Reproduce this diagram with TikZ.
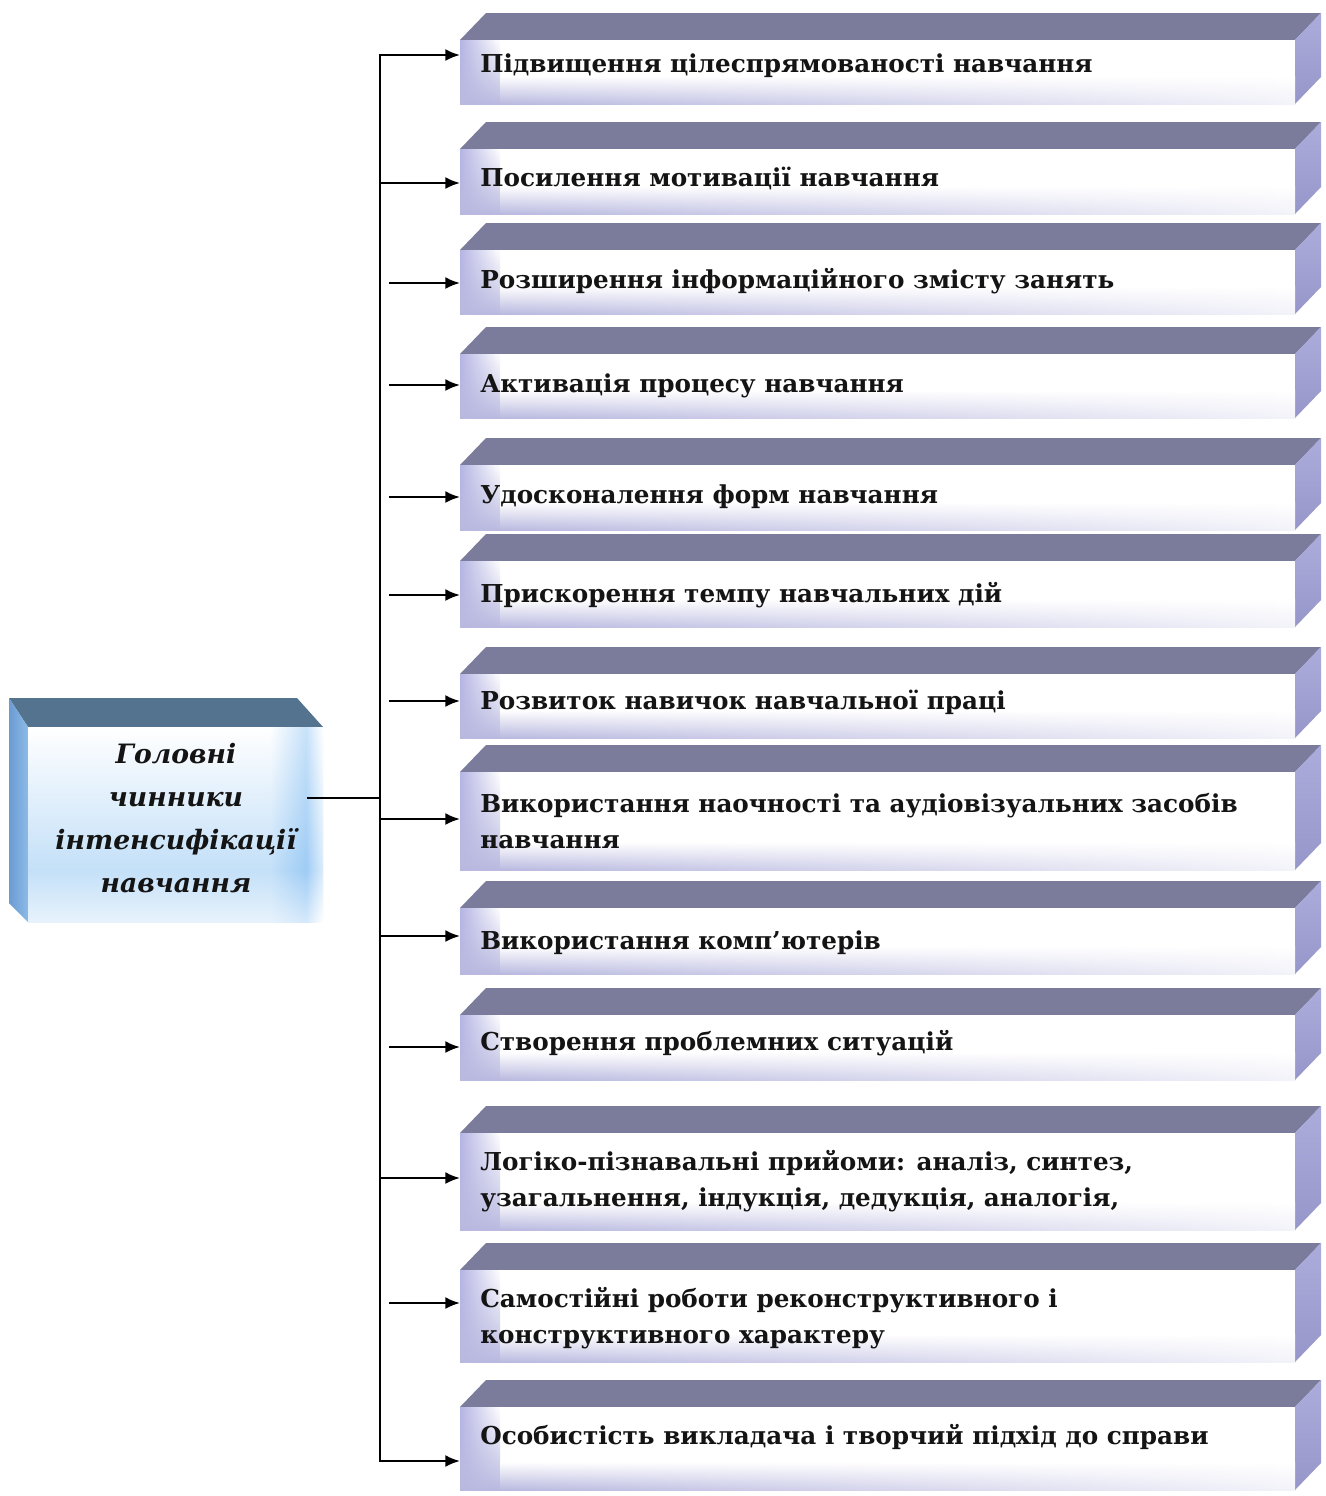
\documentclass[tikz,border=0pt]{standalone}
\usepackage{fontspec}
\setmainfont{DejaVu Serif}
\usetikzlibrary{arrows.meta,shadings}
\definecolor{bandR}{HTML}{7B7B9C}
\definecolor{sideT}{HTML}{ACACDC}
\definecolor{sideB}{HTML}{9696CA}
\definecolor{lavL}{HTML}{B4B4E4}
\definecolor{lavB}{HTML}{B9B9E0}
\definecolor{bandL}{HTML}{54738F}
\definecolor{sideLa}{HTML}{6A9BD2}
\definecolor{sideLb}{HTML}{8DBBE8}
\definecolor{frontLb}{HTML}{C4E0F8}
\definecolor{stripL}{HTML}{86BFF2}
\tikzset{
  arr/.style={line width=1.7pt, -{Latex[length=11pt,width=9pt]}},
  trunk/.style={line width=1.7pt, line cap=rect},
  lbl/.style={anchor=west, inner sep=0pt, align=left,
    font=\fontsize{18.5}{27.5}\selectfont\bfseries, text=black!92},
  frontR/.style={fill=white, inner sep=0pt, minimum width=626.25pt, anchor=north west},
  headlbl/.style={align=center, inner sep=0pt,
    font=\fontsize{20}{32.3}\selectfont\bfseries\itshape, text=black!92}
}
\newcommand\ribox[3]{%
  \fill[bandR] (460,#2) -- (1295,#2) -- (1321,#2-27) -- (486,#2-27) -- cycle;
  \shade[top color=sideT, bottom color=sideB] (1295,#2) -- (1321,#2-27) -- (1321,#3-27) -- (1295,#3) -- cycle;
  \node[frontR, minimum height={(#3-#2)*0.75pt}] (#1) at (460,#2) {};
  \shade[upper left=lavL, lower left=lavB, upper right=white, lower right=lavB] (460,#2) rectangle (500,#3);
  \shade[upper left=white, lower left=lavB, upper right=white, lower right=white!82!lavB] (500,#3-28) rectangle (1295,#3);
}
\begin{document}
\begin{tikzpicture}[x=0.75pt,y=-0.75pt]
\useasboundingbox (0,0) rectangle (1325,1496);
\fill[white] (0,0) rectangle (1325,1496);
% right boxes
\ribox{b1}{40}{104}
\ribox{b2}{149}{214}
\ribox{b3}{250}{314}
\ribox{b4}{354}{418}
\ribox{b5}{465}{530}
\ribox{b6}{561}{627}
\ribox{b7}{674}{738}
\ribox{b8}{772}{870}
\ribox{b9}{908}{974}
\ribox{b10}{1015}{1080}
\ribox{b11}{1133}{1230}
\ribox{b12}{1270}{1362}
\ribox{b13}{1407}{1490}
% labels
\node[lbl] (t1) at (480,66) {Підвищення цілеспрямованості навчання};
\node[lbl] (t2) at (480,178) {Посилення мотивації навчання};
\node[lbl] (t3) at (480,281) {Розширення інформаційного змісту занять};
\node[lbl] (t4) at (480,386) {Активація процесу навчання};
\node[lbl] (t5) at (480,497) {Удосконалення форм навчання};
\node[lbl] (t6) at (480,595) {Прискорення темпу навчальних дій};
\node[lbl] (t7) at (480,702) {Розвиток навичок навчальної праці};
\node[lbl] (t8) at (480,821) {Використання наочності та аудіовізуальних засобів\\навчання};
\node[lbl] (t9) at (480,943) {Використання комп’ютерів};
\node[lbl] (t10) at (480,1043) {Створення проблемних ситуацій};
\node[lbl] (t11) at (480,1181) {Логіко-пізнавальні прийоми: аналіз, синтез,\\узагальнення, індукція, дедукція, аналогія,};
\node[lbl] (t12) at (480,1318) {Самостійні роботи реконструктивного і\\конструктивного характеру};
\node[lbl] (t13) at (480,1437) {Особистість викладача і творчий підхід до справи};
% left box
\fill[bandL] (9,698) -- (297,698) -- (323,727) -- (28,727) -- cycle;
\shade[left color=sideLa, right color=sideLb] (9,698) -- (28,727) -- (28,922) -- (9,903) -- cycle;
\node[fill=white, inner sep=0pt, minimum width=221.25pt, minimum height=146.25pt, anchor=north west] (L) at (28,727) {};
\shade[top color=white, bottom color=frontLb] (28,727) rectangle (323,870);
\shade[top color=frontLb, bottom color=white!60!frontLb] (28,870) rectangle (323,922);
\shade[upper left=white, lower left=frontLb, upper right=stripL!45!white, lower right=stripL!80!white] (270,727) rectangle (306,870);
\shade[upper left=frontLb, lower left=white!60!frontLb, upper right=stripL!80!white, lower right=stripL!35!white] (270,870) rectangle (306,922);
\shade[upper left=stripL!45!white, lower left=stripL!80!white, upper right=white, lower right=white!40!frontLb] (306,727) rectangle (323,870);
\shade[upper left=stripL!80!white, lower left=stripL!35!white, upper right=white!40!frontLb, lower right=white] (306,870) rectangle (323,922);
\node[headlbl] (h) at (176,818) {Головні\\чинники\\інтенсифікації\\навчання};
% connectors
\coordinate (jL) at (308,798);
\coordinate (jT) at (380,798);
\coordinate (top) at (380,55);
\coordinate (bot) at (380,1461);
\draw[trunk] (jL) -- (jT);
\draw[trunk] (top) -- (bot);
\draw[arr] (top) -- (b1.west |- 0,55);
\draw[arr] (381,183) -- (b2.west |- 0,183);
\draw[arr] (389,283) -- (b3.west |- 0,283);
\draw[arr] (389,385) -- (b4.west |- 0,385);
\draw[arr] (389,497) -- (b5.west |- 0,497);
\draw[arr] (389,595) -- (b6.west |- 0,595);
\draw[arr] (389,701) -- (b7.west |- 0,701);
\draw[arr] (381,819) -- (b8.west |- 0,819);
\draw[arr] (381,936) -- (b9.west |- 0,936);
\draw[arr] (389,1047) -- (b10.west |- 0,1047);
\draw[arr] (381,1178) -- (b11.west |- 0,1178);
\draw[arr] (389,1303) -- (b12.west |- 0,1303);
\draw[arr] (bot) -- (b13.west |- 0,1461);
\end{tikzpicture}
\end{document}
